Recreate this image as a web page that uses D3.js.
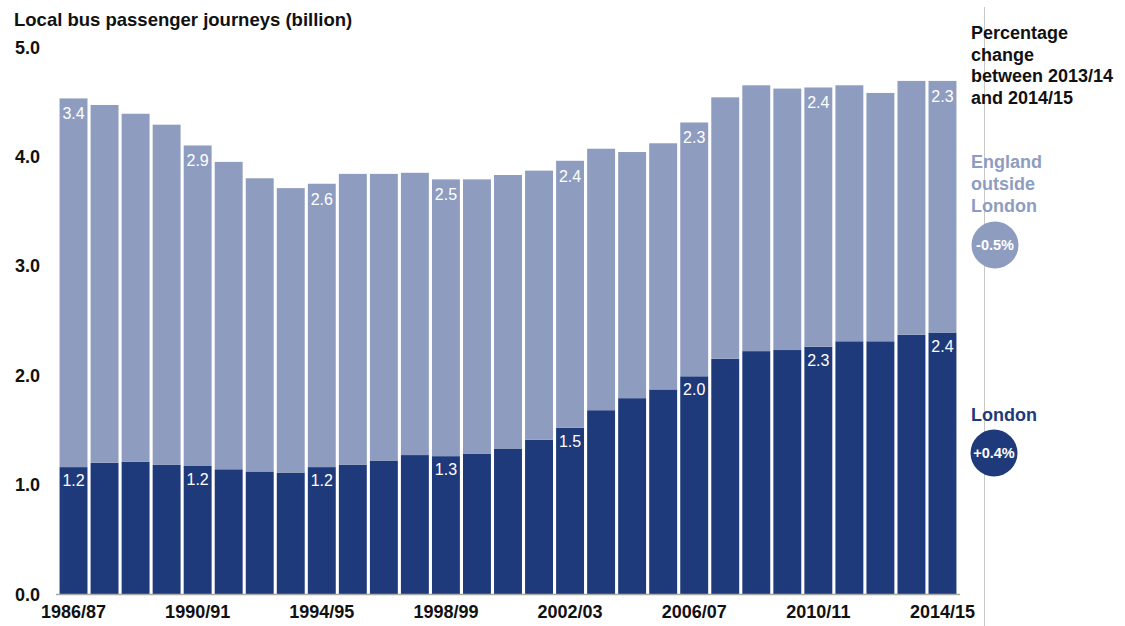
<!DOCTYPE html>
<html><head><meta charset="utf-8">
<script src="https://cdn.jsdelivr.net/npm/d3@7"></script>
<style>body{margin:0;background:#fff;} svg{display:block;font-family:"Liberation Sans",Arial,sans-serif;}</style>
</head><body><svg id="c" width="1125" height="626"></svg>
<script>
const years = ["1986/87","1987/88","1988/89","1989/90","1990/91","1991/92","1992/93","1993/94","1994/95","1995/96","1996/97","1997/98","1998/99","1999/00","2000/01","2001/02","2002/03","2003/04","2004/05","2005/06","2006/07","2007/08","2008/09","2009/10","2010/11","2011/12","2012/13","2013/14","2014/15"];
const london = [1.16,1.20,1.21,1.18,1.17,1.14,1.12,1.11,1.16,1.18,1.22,1.27,1.26,1.28,1.33,1.41,1.52,1.68,1.79,1.87,1.99,2.15,2.22,2.23,2.26,2.31,2.31,2.37,2.39];
const outside = [3.37,3.27,3.18,3.11,2.93,2.81,2.68,2.60,2.59,2.66,2.62,2.58,2.53,2.51,2.50,2.46,2.44,2.39,2.25,2.25,2.32,2.39,2.43,2.39,2.37,2.34,2.27,2.32,2.30];
const yTicks = [0,1,2,3,4,5];
const xTickLabels = ["1986/87","1990/91","1994/95","1998/99","2002/03","2006/07","2010/11","2014/15"];
const labelIdx = [0,4,8,12,16,20,24,28];
const changeLondon = "+0.4%", changeOutside = "-0.5%";

const DARK="#1f3a7b", LIGHT="#8e9dbf";
const FS=18;
const svg=d3.select("#c");
const x=d3.scaleBand().domain(years).range([58,958]).paddingInner(0.1).paddingOuter(0.05);
const y=d3.scaleLinear().domain([0,5]).range([594,47]);

svg.append("text").attr("x",14).attr("y",26).attr("font-size",18.5).attr("font-weight","bold").attr("fill","#111").text("Local bus passenger journeys (billion)");

svg.selectAll(".yt").data(yTicks).enter().append("text")
  .attr("x",15).attr("y",d=>y(d)+6.5).attr("font-size",FS).attr("font-weight","bold").attr("fill","#111")
  .text(d=>d3.format(".1f")(d));

const g=svg.append("g");
g.selectAll(".lb").data(years).enter().append("rect")
  .attr("x",d=>x(d)).attr("width",x.bandwidth())
  .attr("y",(d,i)=>y(london[i])).attr("height",(d,i)=>y(0)-y(london[i])).attr("fill",DARK);
g.selectAll(".ob").data(years).enter().append("rect")
  .attr("x",d=>x(d)).attr("width",x.bandwidth())
  .attr("y",(d,i)=>y(london[i]+outside[i])).attr("height",(d,i)=>y(london[i])-y(london[i]+outside[i])).attr("fill",LIGHT);

svg.append("line").attr("x1",56).attr("x2",960).attr("y1",y(0)+0.5).attr("y2",y(0)+0.5).attr("stroke","#aaa").attr("stroke-width",1.5);

labelIdx.forEach(i=>{
  const cx=x(years[i])+x.bandwidth()/2;
  svg.append("text").attr("x",cx).attr("y",y(london[i]+outside[i])+21).attr("text-anchor","middle")
    .attr("font-size",16).attr("fill","#fff").text(d3.format(".1f")(outside[i]));
  svg.append("text").attr("x",cx).attr("y",y(london[i])+19).attr("text-anchor","middle")
    .attr("font-size",16).attr("fill","#fff").text(d3.format(".1f")(london[i]));
});

const xAxis=d3.axisBottom(x).tickValues(xTickLabels).tickSize(0).tickPadding(0);
const ax=svg.append("g").attr("transform",`translate(0,${y(0)+8})`).call(xAxis);
ax.select(".domain").remove();
ax.selectAll("text").attr("font-size",FS).attr("font-weight","bold").attr("fill","#111").attr("font-family","Liberation Sans, Arial, sans-serif").attr("dy","0.9em");

svg.append("line").attr("x1",984.5).attr("x2",984.5).attr("y1",7).attr("y2",626).attr("stroke","#c8c8c8").attr("stroke-width",1);

const rt=["Percentage","change","between 2013/14","and 2014/15"];
rt.forEach((t,k)=>svg.append("text").attr("x",971).attr("y",39+k*21.7).attr("font-size",FS).attr("font-weight","bold").attr("fill","#111").text(t));
["England","outside","London"].forEach((t,k)=>svg.append("text").attr("x",971).attr("y",168+k*22).attr("font-size",FS).attr("font-weight","bold").attr("fill",LIGHT).text(t));
svg.append("circle").attr("cx",995).attr("cy",245).attr("r",23.5).attr("fill",LIGHT);
svg.append("text").attr("x",995).attr("y",250).attr("text-anchor","middle").attr("font-size",14.5).attr("font-weight","bold").attr("fill","#fff").text(changeOutside);
svg.append("text").attr("x",971).attr("y",421).attr("font-size",FS).attr("font-weight","bold").attr("fill",DARK).text("London");
svg.append("circle").attr("cx",994).attr("cy",453).attr("r",23.5).attr("fill",DARK);
svg.append("text").attr("x",994).attr("y",458).attr("text-anchor","middle").attr("font-size",14.5).attr("font-weight","bold").attr("fill","#fff").text(changeLondon);
</script></body></html>
